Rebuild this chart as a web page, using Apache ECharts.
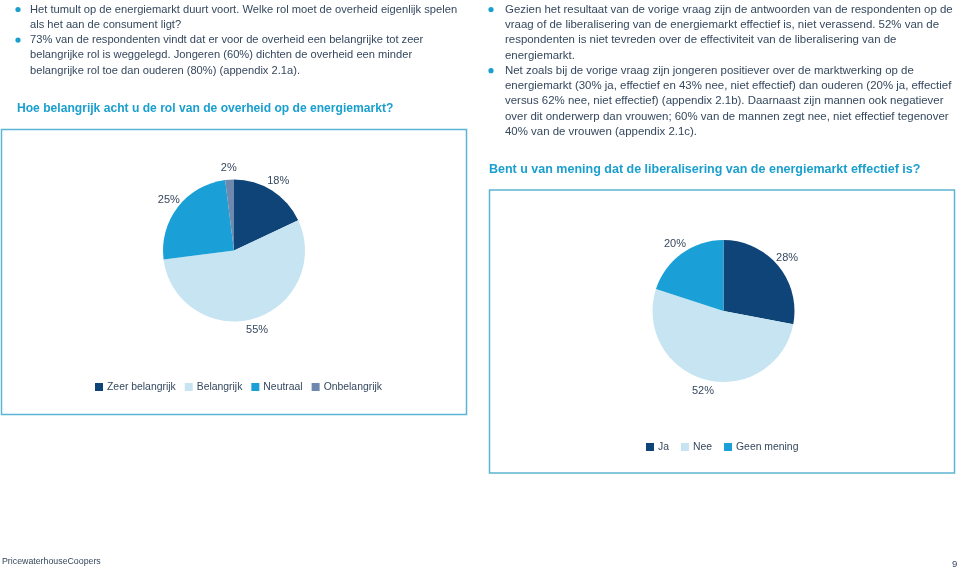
<!DOCTYPE html>
<html><head><meta charset="utf-8">
<script src="https://cdn.jsdelivr.net/npm/echarts@6/dist/echarts.min.js"></script>
<style>html,body{margin:0;padding:0;background:#fff}#c{width:959px;height:572px}</style>
</head><body><div id="c"></div>
<script>
const categories1 = ['Zeer belangrijk', 'Belangrijk', 'Neutraal', 'Onbelangrijk'];
const values1 = [18, 55, 25, 2];
const categories2 = ['Ja', 'Nee', 'Geen mening'];
const values2 = [28, 52, 20];
const title1 = 'Hoe belangrijk acht u de rol van de overheid op de energiemarkt?';
const title2 = 'Bent u van mening dat de liberalisering van de energiemarkt effectief is?';
const leftBullets = [
  ['Het tumult op de energiemarkt duurt voort. Welke rol moet de overheid eigenlijk spelen', 'als het aan de consument ligt?'],
  ['73% van de respondenten vindt dat er voor de overheid een belangrijke tot zeer', 'belangrijke rol is weggelegd. Jongeren (60%) dichten de overheid een minder', 'belangrijke rol toe dan ouderen (80%) (appendix 2.1a).']
];
const rightBullets = [
  ['Gezien het resultaat van de vorige vraag zijn de antwoorden van de respondenten op de', 'vraag of de liberalisering van de energiemarkt effectief is, niet verassend. 52% van de', 'respondenten is niet tevreden over de effectiviteit van de liberalisering van de', 'energiemarkt.'],
  ['Net zoals bij de vorige vraag zijn jongeren positiever over de marktwerking op de', 'energiemarkt (30% ja, effectief en 43% nee, niet effectief) dan ouderen (20% ja, effectief', 'versus 62% nee, niet effectief) (appendix 2.1b). Daarnaast zijn mannen ook negatiever', 'over dit onderwerp dan vrouwen; 60% van de mannen zegt nee, niet effectief tegenover', '40% van de vrouwen (appendix 2.1c).']
];
const footerText = 'PricewaterhouseCoopers';
const pageNumber = '9';

const FONT = '"Liberation Sans", Arial, Helvetica, sans-serif';
const TXT = '#35485e';
const CYAN = '#1a9fcf';
const BOX = '#5cb5d1';
const colors1 = ['#0e4477', '#c6e4f1', '#1aa0d6', '#6f88ae'];
const colors2 = ['#0e4477', '#c6e4f1', '#1aa0d6'];
const LH = 15.3;

const graphics = [];
function addBullets(list, xBullet, xText, yStart, fs) {
  let y = yStart;
  list.forEach(lines => {
    graphics.push({type: 'circle', shape: {cx: xBullet, cy: y, r: 2.6}, style: {fill: CYAN}, silent: true});
    lines.forEach(l => {
      graphics.push({type: 'text', x: xText, y: y, style: {text: l, font: fs + 'px ' + FONT, fill: TXT, textVerticalAlign: 'middle'}, silent: true});
      y += LH;
    });
  });
}
addBullets(leftBullets, 18, 30, 9.5, 11.15);
addBullets(rightBullets, 491, 505, 9.5, 11.45);
graphics.push({type: 'text', x: 17, y: 109, style: {text: title1, font: 'bold 12.1px ' + FONT, fill: CYAN, textVerticalAlign: 'middle'}});
graphics.push({type: 'text', x: 489, y: 170, style: {text: title2, font: 'bold 12.5px ' + FONT, fill: CYAN, textVerticalAlign: 'middle'}});
graphics.push({type: 'rect', shape: {x: 1.5, y: 129.5, width: 465, height: 285}, style: {fill: 'none', stroke: BOX, lineWidth: 1.5}, silent: true});
graphics.push({type: 'rect', shape: {x: 489.5, y: 190, width: 465, height: 283}, style: {fill: 'none', stroke: BOX, lineWidth: 1.5}, silent: true});
graphics.push({type: 'text', x: 2, y: 562, style: {text: footerText, font: '8.8px ' + FONT, fill: TXT, textVerticalAlign: 'middle'}});
graphics.push({type: 'text', x: 952, y: 564, style: {text: pageNumber, font: '9.5px ' + FONT, fill: TXT, textVerticalAlign: 'middle'}});

const legendText = {color: TXT, fontSize: 10.4, fontFamily: FONT, padding: [0, 0, 0, -1]};

function piePair(center, names, values, colors) {
  const real = {type: 'pie', center: center, radius: [0, 71], startAngle: 90, clockwise: true,
    label: {show: false}, labelLine: {show: false}, silent: true, emphasis: {disabled: true},
    data: names.map((n, i) => ({name: n, value: values[i], itemStyle: {color: colors[i]}}))};
  const ghost = {type: 'pie', center: center, radius: [70, 89], startAngle: 90, clockwise: true,
    label: {show: true, position: 'inside', formatter: '{c}%', color: TXT, fontSize: 11, fontFamily: FONT, rotate: 0},
    labelLine: {show: false}, silent: true, emphasis: {disabled: true}, legendHoverLink: false,
    itemStyle: {color: 'rgba(0,0,0,0)'},
    data: names.map((n, i) => ({name: n + ' ', value: values[i]}))};
  return [real, ghost];
}

const chart = echarts.init(document.getElementById('c'), null, {renderer: 'canvas'});
chart.setOption({
  animation: false,
  graphic: graphics,
  legend: [
    {data: categories1, left: 90, top: 377, itemWidth: 8, itemHeight: 8, itemGap: 9, icon: 'rect',
     textStyle: legendText, selectedMode: false},
    {data: categories2, left: 641, top: 437, itemWidth: 8, itemHeight: 8, itemGap: 12, icon: 'rect',
     textStyle: legendText, selectedMode: false}
  ],
  series: [].concat(
    piePair([234, 250.5], categories1, values1, colors1),
    piePair([723.5, 311], categories2, values2, colors2)
  )
});
</script></body></html>
